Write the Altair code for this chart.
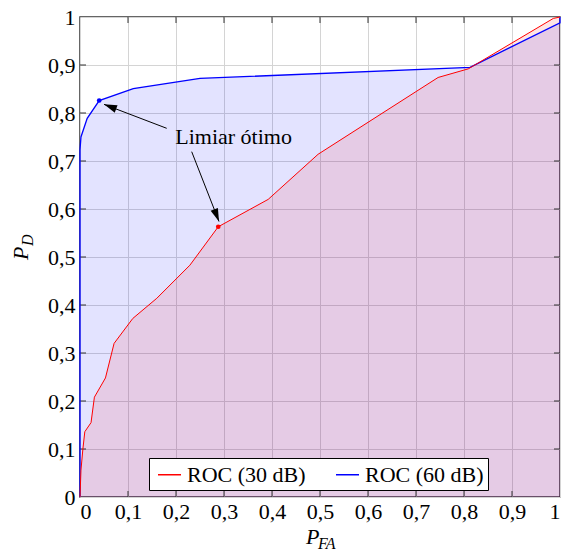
import math
import altair as alt
import pandas as pd

# ---- data ----
pfa_30 = [0, 0.002, 0.006, 0.01, 0.023, 0.03, 0.053, 0.071, 0.11, 0.16, 0.229, 0.288, 0.392, 0.496, 0.746, 0.809, 0.986, 1]
pd_30 = [0, 0.056, 0.1, 0.136, 0.155, 0.208, 0.248, 0.32, 0.372, 0.414, 0.483, 0.563, 0.62, 0.714, 0.874, 0.892, 0.997, 1]
pfa_60 = [0, 0, 0.002, 0.015, 0.04, 0.111, 0.25, 0.8125, 1, 1]
pd_60 = [0, 0.723, 0.75, 0.789, 0.826, 0.851, 0.872, 0.895, 0.988, 1]

series_names = ["ROC (30 dB)", "ROC (60 dB)"]
series_colors = ["#ff0000", "#0000ff"]

tick_values = [0, 0.1, 0.2, 0.3, 0.4, 0.5, 0.6, 0.7, 0.8, 0.9, 1]
inner_ticks = [0.1, 0.2, 0.3, 0.4, 0.5, 0.6, 0.7, 0.8, 0.9]

opt_pfa = [0.288, 0.04]
opt_pd = [0.563, 0.826]
opt_color = ["#ff0000", "#0000ff"]

annot_text = ["Limiar ótimo"]
annot_x = [0.32]
annot_y = [0.735]
arrow_tail_x = [0.1806, 0.2327]
arrow_tail_y = [0.7681, 0.7194]
arrow_tip_x = [0.05, 0.2896]
arrow_tip_y = [0.818, 0.574]

x_title = ["P", "FA"]
y_title = ["P", "D"]

FONT = "Liberation Serif"

# ---- tables ----
d30 = pd.DataFrame({"pfa": pfa_30, "pd": pd_30, "series": series_names[0], "idx": range(len(pfa_30))})
d60 = pd.DataFrame({"pfa": pfa_60, "pd": pd_60, "series": series_names[1], "idx": range(len(pfa_60))})
opt_df = pd.DataFrame({"pfa": opt_pfa, "pd": opt_pd, "c": opt_color})
ang = [math.degrees(math.atan2(tx - sx, ty - sy)) % 360
       for sx, sy, tx, ty in zip(arrow_tail_x, arrow_tail_y, arrow_tip_x, arrow_tip_y)]
arrow_df = pd.DataFrame({"x1": arrow_tail_x, "y1": arrow_tail_y, "x2": arrow_tip_x, "y2": arrow_tip_y, "ang": ang})
annot_df = pd.DataFrame({"t": annot_text, "x": annot_x, "y": annot_y})
tick_df = pd.DataFrame({"t": inner_ticks})

xs = alt.Scale(domain=[0, 1], nice=False, zero=False)
ys = alt.Scale(domain=[0, 1], nice=False, zero=False)

label_expr = "replace(datum.label, '.', ',')"
axis_common = dict(values=tick_values, format=".1~f", labelExpr=label_expr, title=None,
                   grid=True, gridColor="#d4d4d4", gridWidth=1, ticks=False, tickSize=0,
                   domain=False, labelFont=FONT, labelFontSize=22, labelColor="black")
x_axis = alt.Axis(labelPadding=4, **axis_common)
y_axis = alt.Axis(labelPadding=5, **axis_common)


def X(f):
    return alt.X(f, scale=xs, axis=x_axis)


def Y(f):
    return alt.Y(f, scale=ys, axis=y_axis)


color = alt.Color("series:N", scale=alt.Scale(domain=series_names, range=series_colors),
                  legend=alt.Legend(orient="none", legendX=69, legendY=441, direction="horizontal",
                                    title=None, symbolType="stroke", symbolSize=529,
                                    symbolStrokeWidth=1.5, symbolOpacity=0.65,
                                    labelFont=FONT, labelFontSize=22, labelColor="black",
                                    labelOffset=5, columnPadding=25, padding=4,
                                    symbolOffset=4, strokeColor="black", fillColor="white"))

area60 = alt.Chart(d60).mark_area(color="#0000ff", opacity=0.11).encode(
    x=X("pfa:Q"), y=Y("pd:Q"), y2=alt.datum(0))
area30 = alt.Chart(d30).mark_area(color="#ff0000", opacity=0.1).encode(
    x=X("pfa:Q"), y=Y("pd:Q"), y2=alt.datum(0))
line60 = alt.Chart(d60).mark_line(strokeWidth=1.3).encode(
    x=X("pfa:Q"), y=Y("pd:Q"), order="idx:Q", color=color)
line30 = alt.Chart(d30).mark_line(strokeWidth=1.0).encode(
    x=X("pfa:Q"), y=Y("pd:Q"), order="idx:Q", color=color)
markers = alt.Chart(opt_df).mark_point(filled=True, size=22, opacity=1).encode(
    x=X("pfa:Q"), y=Y("pd:Q"), color=alt.Color("c:N", scale=None))
shafts = alt.Chart(arrow_df).mark_rule(color="black", strokeWidth=1).encode(
    x=X("x1:Q"), y=Y("y1:Q"), x2="x2:Q", y2="y2:Q")
heads = alt.Chart(arrow_df).mark_point(shape="M0,0 L-0.6,2 L0.6,2 Z", filled=True, color="black",
                                       size=169, opacity=1).encode(
    x=X("x2:Q"), y=Y("y2:Q"), angle=alt.Angle("ang:Q", scale=None))
annot = alt.Chart(annot_df).mark_text(font=FONT, fontSize=22, align="center", baseline="alphabetic",
                                      color="black").encode(
    x=X("x:Q"), y=Y("y:Q"), text="t:N")

tick_style = dict(color="#333333", strokeWidth=1)
top_ticks = alt.Chart(tick_df).mark_rule(**tick_style).encode(
    x=X("t:Q"), y=alt.value(0), y2=alt.value(6))
bottom_ticks = alt.Chart(tick_df).mark_rule(**tick_style).encode(
    x=X("t:Q"), y=alt.value(480), y2=alt.value(474))
left_ticks = alt.Chart(tick_df).mark_rule(**tick_style).encode(
    y=Y("t:Q"), x=alt.value(0), x2=alt.value(6))
right_ticks = alt.Chart(tick_df).mark_rule(**tick_style).encode(
    y=Y("t:Q"), x=alt.value(480), x2=alt.value(474))


def txt(s, size, x, y, angle=0):
    return alt.Chart(pd.DataFrame({"s": [s]})).mark_text(
        font=FONT, fontSize=size, fontStyle="italic", align="left", baseline="alphabetic",
        angle=angle, color="black").encode(x=alt.value(x), y=alt.value(y), text="s:N")


xt_main = txt(x_title[0], 22, 226, 527)
xt_sub = txt(x_title[1], 16, 238, 532)
yt_main = txt(y_title[0], 22, -52, 243, angle=270)
yt_sub = txt(y_title[1], 16, -47, 229, angle=270)

chart = alt.layer(
    area60, area30, top_ticks, bottom_ticks, left_ticks, right_ticks,
    line60, line30, markers, shafts, heads, annot,
    xt_main, xt_sub, yt_main, yt_sub,
).properties(
    width=480, height=480,
    background="white",
    autosize=alt.AutoSizeParams(type="none"),
    padding={"left": 80, "top": 17, "right": 9, "bottom": 58},
).configure_view(
    stroke="#333333", strokeWidth=1.5
)

chart.save("out.html", embed_options={"renderer": "svg", "actions": False})
